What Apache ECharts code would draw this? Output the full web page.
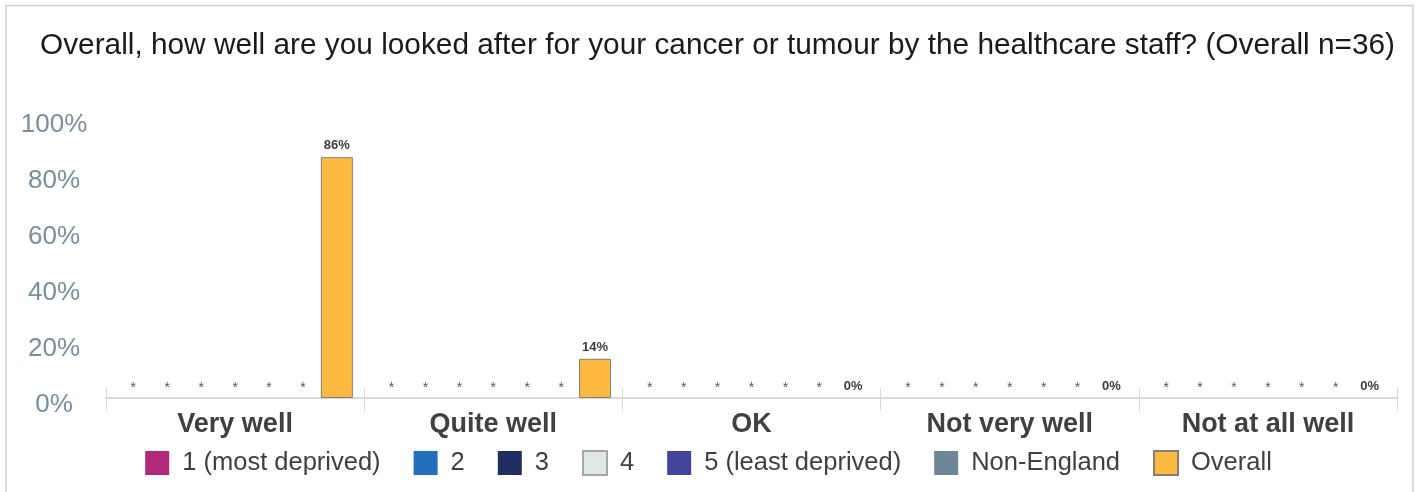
<!DOCTYPE html>
<html>
<head>
<meta charset="utf-8">
<script src="https://cdn.jsdelivr.net/npm/echarts@6/dist/echarts.min.js"></script>
<style>html,body{margin:0;padding:0;background:#fff;}#c{width:1417px;height:492px;}</style>
</head>
<body>
<div id="c"></div>
<script>
const titleText = 'Overall, how well are you looked after for your cancer or tumour by the healthcare staff? (Overall n=36)';
const categories = ['Very well', 'Quite well', 'OK', 'Not very well', 'Not at all well'];
const seriesNames = ['1 (most deprived)', '2', '3', '4', '5 (least deprived)', 'Non-England', 'Overall'];
const seriesColors = ['#B0297A', '#236EBD', '#1F2D61', '#E2E8E6', '#45449B', '#6E8797', '#FDB940'];
// null = suppressed (shown as *)
const imd1 = [null, null, null, null, null];
const imd2 = [null, null, null, null, null];
const imd3 = [null, null, null, null, null];
const imd4 = [null, null, null, null, null];
const imd5 = [null, null, null, null, null];
const nonEngland = [null, null, null, null, null];
const overall = [86, 14, 0, 0, 0];
const yTicks = [0, 20, 40, 60, 80, 100];

const FONT = '"Liberation Sans", Arial, sans-serif';
const allValues = [imd1, imd2, imd3, imd4, imd5, nonEngland, overall];

const series = allValues.map((vals, i) => {
  const bw = (i === 3 || i === 6) ? 1 : 0;
  const bc = (i === 3) ? '#a6a6a6' : (i === 6 ? '#7f7f7f' : seriesColors[i]);
  return {
    name: seriesNames[i],
    type: 'bar',
    barWidth: 32,
    barGap: '6%',
    itemStyle: { color: seriesColors[i], borderColor: bc, borderWidth: bw },
    data: vals.map(v => v === null
      ? { value: 0, itemStyle: { borderWidth: 0 },
          label: { show: true, formatter: '*', fontWeight: 'normal', fontSize: 14, color: '#595959', distance: 3 } }
      : (v === 0 ? { value: 0, itemStyle: { borderWidth: 0 } } : { value: v })),
    label: {
      show: true,
      position: 'top',
      distance: 5,
      formatter: p => p.value + '%',
      fontFamily: FONT,
      fontSize: 13,
      fontWeight: 'bold',
      color: '#404040'
    }
  };
});

const chart = echarts.init(document.getElementById('c'), null, { renderer: 'canvas' });
chart.setOption({
  animation: false,
  backgroundColor: '#ffffff',
  textStyle: { fontFamily: FONT },
  title: {
    text: titleText,
    left: 35,
    top: 26,
    textStyle: { fontFamily: FONT, fontSize: 29.8, fontWeight: 'normal', color: '#1a1a1a' }
  },
  graphic: [{
    type: 'rect',
    shape: { x: 6, y: 5.5, width: 1407, height: 500 },
    style: { fill: 'none', stroke: '#d0d0d0', lineWidth: 1.5 },
    silent: true,
    z: -1
  }],
  legend: {
    data: seriesNames,
    left: 'center',
    top: 445,
    icon: 'rect',
    itemWidth: 24,
    itemHeight: 24,
    itemGap: 33,
    textStyle: { fontFamily: FONT, fontSize: 25.5, color: '#404040', padding: [0, 0, 0, 8] }
  },
  grid: { left: 106, right: 20, top: 118, bottom: 94, containLabel: false },
  xAxis: [{
    type: 'category',
    data: categories,
    axisLine: { show: true, lineStyle: { color: '#d9d9d9', width: 2 } },
    axisTick: { show: true, length: 13, lineStyle: { color: '#d9d9d9', width: 1 } },
    axisLabel: { margin: 13, fontFamily: FONT, fontSize: 27, fontWeight: 'bold', color: '#404040' }
  }, {
    type: 'category',
    data: categories,
    position: 'bottom',
    axisLine: { show: false },
    axisTick: { show: true, inside: true, length: 10, lineStyle: { color: '#d9d9d9', width: 1 } },
    axisLabel: { show: false }
  }],
  yAxis: {
    type: 'value',
    min: yTicks[0],
    max: yTicks[yTicks.length - 1],
    interval: 20,
    axisLine: { show: false },
    axisTick: { show: false },
    splitLine: { show: false },
    axisLabel: {
      formatter: '{value}%',
      align: 'center',
      verticalAlign: 'top',
      lineHeight: 14,
      margin: 52,
      fontFamily: FONT,
      fontSize: 26,
      color: '#7A8E9C'
    }
  },
  series: series
});
</script>
</body>
</html>
